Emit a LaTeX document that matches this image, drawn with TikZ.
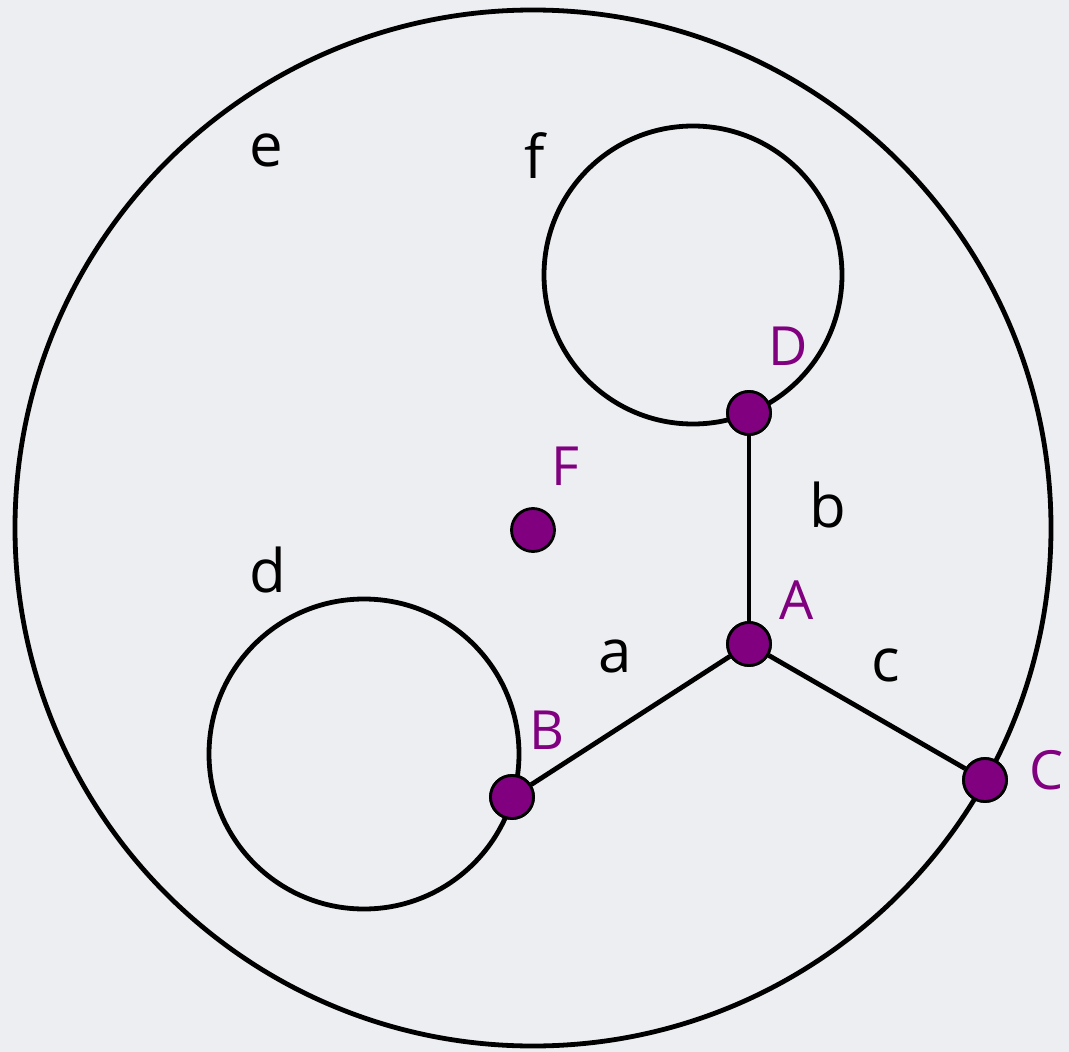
\documentclass[tikz,border=0pt]{standalone}
\usepackage{fontspec}
\setmainfont{Open Sans}
\definecolor{bg}{RGB}{237,238,241}
\definecolor{vert}{RGB}{128,0,128}
\begin{document}
\begin{tikzpicture}[x=1pt,y=-1pt,
  curve/.style={draw=black,line width=4.8pt},
  vtx/.style={circle,fill=vert,draw=black,line width=2.8pt,minimum size=43pt,inner sep=0pt},
  vlab/.style={text=vert,font=\fontsize{54}{54}\selectfont,inner sep=0pt},
  flab/.style={text=black,font=\fontsize{60}{60}\selectfont,inner sep=0pt}]
\useasboundingbox[fill=bg] (0,0) rectangle (1069,1052);
% faces / loops
\draw[curve] (533,528) circle[radius=518];
\draw[curve] (693,275) circle[radius=149];
\draw[curve] (364,754) circle[radius=155];
% vertices
\node[vtx] (D) at (749,413) {};
\node[vtx] (A) at (749,644) {};
\node[vtx] (B) at (512,797) {};
\node[vtx] (C) at (985,780) {};
\node[vtx] (F) at (533,530) {};
% edges
\draw[curve] (A) -- (D);
\draw[curve] (A) -- (B);
\draw[curve] (A) -- (C);
% redraw vertices on top
\node[vtx] at (D) {};
\node[vtx] at (A) {};
\node[vtx] at (B) {};
\node[vtx] at (C) {};
% vertex labels
\node[vlab] (lD) at (788,346) {D};
\node[vlab] (lF) at (565,466) {F};
\node[vlab] (lA) at (797,600) {A};
\node[vlab] (lB) at (547,730) {B};
\node[vlab] (lC) at (1047,770) {C};
% face / edge labels
\node[flab,anchor=base] (le) at (266,166) {e};
\node[flab,anchor=base] (lf) at (535,178) {f};
\node[flab,anchor=base] (lb) at (828,527) {b};
\node[flab,anchor=base] (ld) at (268,592) {d};
\node[flab,anchor=base] (la) at (615,672) {a};
\node[flab,anchor=base] (lc) at (886,681) {c};
\end{tikzpicture}
\end{document}
